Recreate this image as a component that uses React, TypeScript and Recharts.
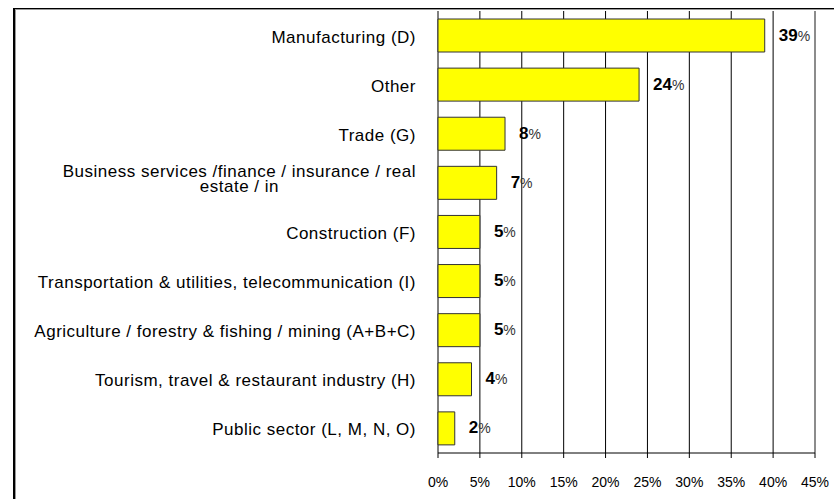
import { BarChart, Bar, XAxis, YAxis, CartesianGrid, LabelList, ReferenceLine } from "recharts";

const sectors = [
  "Manufacturing (D)",
  "Other",
  "Trade (G)",
  "Business services /finance / insurance / real\nestate / in",
  "Construction (F)",
  "Transportation & utilities, telecommunication  (I)",
  "Agriculture / forestry & fishing / mining (A+B+C)",
  "Tourism, travel & restaurant industry (H)",
  "Public sector (L, M, N, O)",
];
const shares = [39, 24, 8, 7, 5, 5, 5, 4, 2];
const percentTicks = [0, 5, 10, 15, 20, 25, 30, 35, 40, 45];
const boundaryTicks = [0, 1, 2, 3, 4, 5, 6, 7, 8, 9];

const data = sectors.map((name, i) => ({ name, share: shares[i] }));

const FONT = "'Liberation Sans', Arial, sans-serif";
const LABEL_SIZE = 17;
const LABEL_SPACING = 0.5;

let measureCtx: CanvasRenderingContext2D | null = null;
const textWidth = (s: string) => {
  if (!measureCtx) measureCtx = document.createElement("canvas").getContext("2d");
  if (!measureCtx) return s.length * 8.5;
  measureCtx.font = `${LABEL_SIZE}px 'Liberation Sans'`;
  return measureCtx.measureText(s).width + s.length * LABEL_SPACING;
};

// sector names, right aligned; wrapped names are centred on their first line
const SectorTick = (props: any) => {
  const { x, y, payload } = props;
  const lines = String(payload.value).split("\n");
  const style = { letterSpacing: `${LABEL_SPACING}px` };
  if (lines.length === 1) {
    return (
      <text x={x} y={y + 7} textAnchor="end" fontFamily={FONT} fontSize={LABEL_SIZE} fill="#000" style={style}>
        {lines[0]}
      </text>
    );
  }
  const cx = x - textWidth(lines[0]) / 2;
  return (
    <text textAnchor="middle" fontFamily={FONT} fontSize={LABEL_SIZE} fill="#000" style={style}>
      {lines.map((l, i) => (
        <tspan key={i} x={cx} y={y - 6 + i * 15}>
          {l}
        </tspan>
      ))}
    </text>
  );
};

const ValueLabel = (props: any) => {
  const { x, y, width, height, value } = props;
  return (
    <text x={x + width + 14} y={y + height / 2 + 5} fontFamily={FONT} fill="#000">
      <tspan fontWeight="bold" fontSize={17}>{value}</tspan>
      <tspan fontSize={14} fill="#333">%</tspan>
    </text>
  );
};

export default function App() {
  return (
    <div style={{ position: "fixed", left: 0, top: 0, width: 834, height: 499, overflow: "hidden", background: "#fff" }}>
      <div
        style={{
          position: "absolute",
          left: 13,
          top: 8,
          width: 900,
          height: 600,
          borderTop: "1px solid #000",
          borderLeft: "2px solid #000",
          boxShadow: "inset 1px 1px 0 #999",
        }}
      />
      <div style={{ position: "absolute", left: 0, top: 0 }}>
        <BarChart
          width={834}
          height={499}
          data={data}
          layout="vertical"
          margin={{ top: 11, right: 19, bottom: 6, left: 0 }}
        >
          <CartesianGrid horizontal={false} stroke="#000" strokeWidth={1} />
          <XAxis
            type="number"
            domain={[0, 45]}
            ticks={percentTicks}
            tickFormatter={(v) => `${v}%`}
            height={40}
            tickSize={5}
            tickMargin={19}
            axisLine={{ stroke: "#000" }}
            tickLine={{ stroke: "#000" }}
            tick={{ fill: "#000", fontSize: 14, fontFamily: FONT }}
          />
          <YAxis
            yAxisId="edges"
            type="number"
            domain={[0, 9]}
            ticks={boundaryTicks}
            width={0}
            tick={false}
            tickSize={5}
            axisLine={{ stroke: "#000" }}
            tickLine={{ stroke: "#000" }}
          />
          <YAxis
            yAxisId="cat"
            type="category"
            dataKey="name"
            width={438}
            axisLine={false}
            tickLine={false}
            tickSize={0}
            tickMargin={22}
            interval={0}
            tick={<SectorTick />}
          />
          <ReferenceLine x={45} yAxisId="cat" stroke="#999" />
          <ReferenceLine y={9} yAxisId="edges" stroke="#999" />
          <Bar
            yAxisId="cat"
            dataKey="share"
            barSize={33}
            fill="#FFFF00"
            stroke="#333"
            strokeWidth={1}
            isAnimationActive={false}
          >
            <LabelList dataKey="share" content={<ValueLabel />} />
          </Bar>
        </BarChart>
      </div>
    </div>
  );
}
